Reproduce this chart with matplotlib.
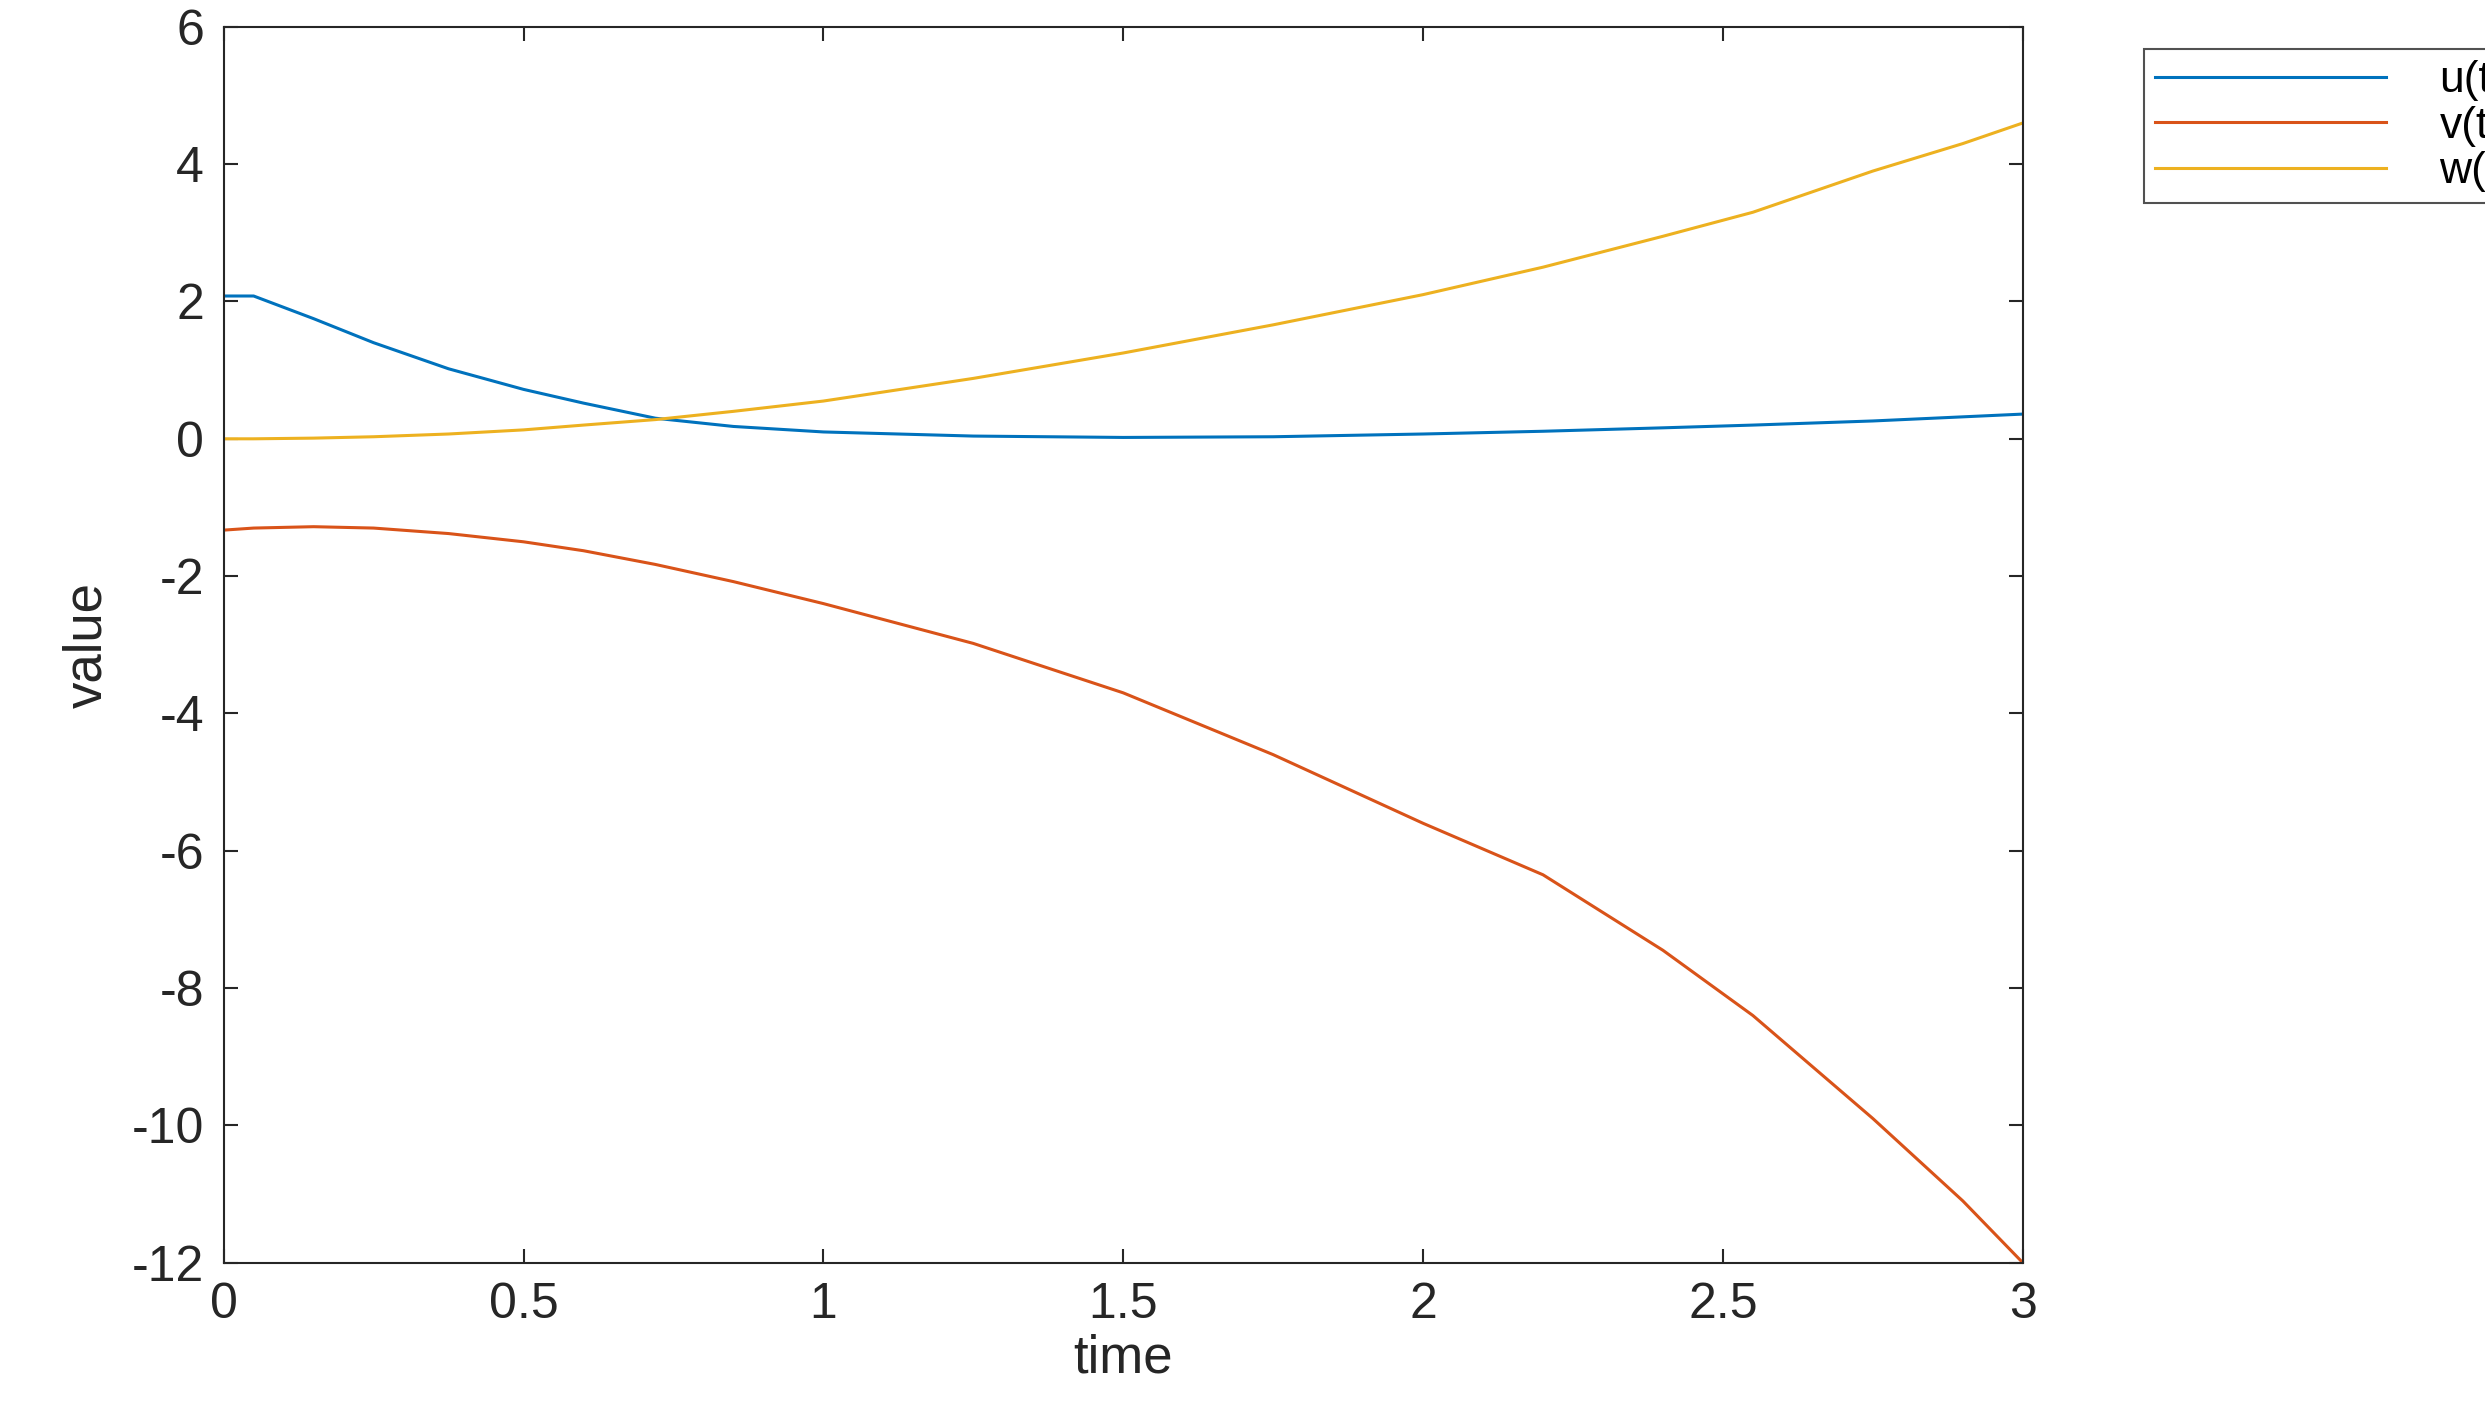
import matplotlib
matplotlib.use("Agg")
import matplotlib.pyplot as plt

plt.rcParams['font.family'] = ['Liberation Sans', 'DejaVu Sans']
plt.rcParams['axes.unicode_minus'] = False

t = [0, 0.05, 0.15, 0.25, 0.375, 0.5, 0.6, 0.72, 0.85, 1.0, 1.25, 1.5, 1.75, 2.0, 2.2, 2.4, 2.55, 2.75, 2.9, 3.0]
u = [2.08, 2.08, 1.75, 1.4, 1.02, 0.72, 0.52, 0.3, 0.18, 0.1, 0.04, 0.02, 0.03, 0.07, 0.11, 0.16, 0.2, 0.26, 0.32, 0.36]
v = [-1.33, -1.3, -1.28, -1.3, -1.38, -1.5, -1.63, -1.83, -2.08, -2.4, -2.98, -3.7, -4.6, -5.6, -6.35, -7.45, -8.4, -9.9, -11.1, -12.0]
w = [0.0, 0.0, 0.01, 0.03, 0.07, 0.13, 0.2, 0.28, 0.4, 0.55, 0.88, 1.25, 1.66, 2.1, 2.5, 2.95, 3.3, 3.9, 4.3, 4.6]

fig = plt.figure(figsize=(24.85, 14.14), dpi=100)
ax = fig.add_axes([0.090, 0.107, 0.724, 0.874])
ax.plot(t, u, color='#0072BD', lw=2.2, label='u(t)')
ax.plot(t, v, color='#D95319', lw=2.2, label='v(t)')
ax.plot(t, w, color='#EDB120', lw=2.2, label='w(t)')
ax.set_xlim(0, 3)
ax.set_ylim(-12, 6)
ax.set_xticks([0, 0.5, 1, 1.5, 2, 2.5, 3])
ax.set_xticklabels(['0', '0.5', '1', '1.5', '2', '2.5', '3'])
ax.set_yticks(range(-12, 7, 2))
ax.tick_params(labelsize=36, direction='in', length=10, width=1.5, top=True, right=True,
               colors='#262626', pad=14)
for s in ax.spines.values():
    s.set_linewidth(1.5)
    s.set_color('#262626')
ax.set_xlabel('time', fontsize=38, color='#262626', labelpad=4)
ax.set_ylabel('value', fontsize=38, color='#262626', labelpad=14)
leg = ax.legend(loc='upper left', bbox_to_anchor=(1.055, 1.0), fontsize=32, frameon=True,
                fancybox=False, edgecolor='#262626', handlelength=5.2,
                borderpad=0.25, labelspacing=0.1, handletextpad=1.2)
leg.get_frame().set_linewidth(1.5)
fig.savefig('out.png', dpi=100, facecolor='white')
